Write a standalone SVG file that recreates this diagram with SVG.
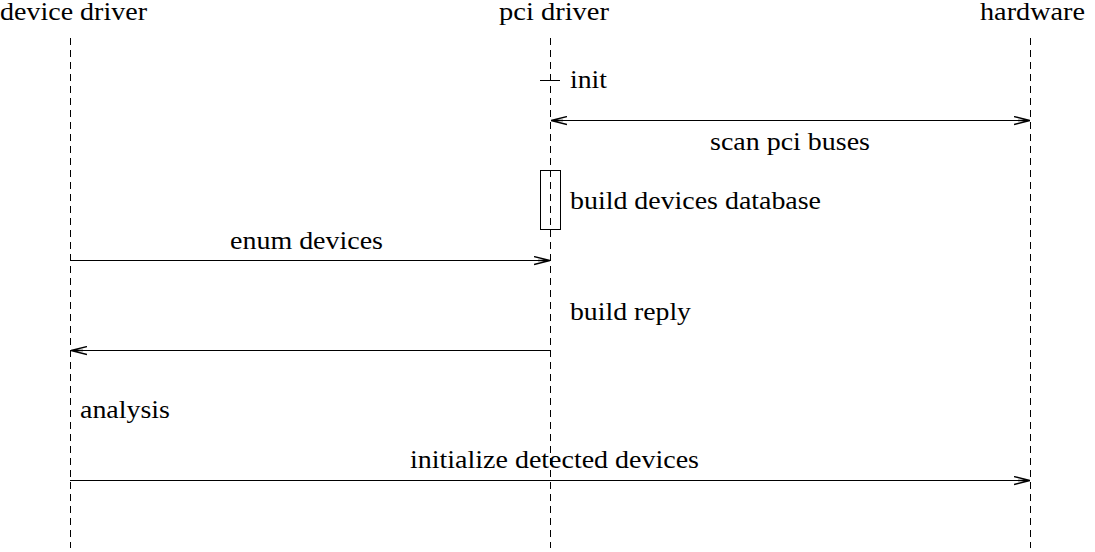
<svg xmlns="http://www.w3.org/2000/svg" width="1095" height="552" viewBox="0 0 1095 552">
<style>
text{font-family:"Liberation Serif","Times New Roman",serif;font-size:25px;fill:#000}
.life{stroke:#000;stroke-width:1;stroke-dasharray:7 5;fill:none}
.msg{stroke:#000;stroke-width:1;fill:none}
</style>
<defs>
<marker id="ah" viewBox="0 0 16 10" refX="16" refY="5" markerWidth="16" markerHeight="10" markerUnits="userSpaceOnUse" orient="auto-start-reverse">
<path d="M0,1 L16,5 L0,9 M4,5 L16,5" fill="none" stroke="#000" stroke-width="1.3"/>
</marker>
</defs>
<rect width="1095" height="552" fill="#fff"/>
<g id="device-driver">
<text x="0" y="20" textLength="147" lengthAdjust="spacingAndGlyphs">device driver</text>
<line class="life" x1="70.5" y1="38" x2="70.5" y2="548"/>
</g>
<g id="pci-driver">
<text x="499" y="20" textLength="110" lengthAdjust="spacingAndGlyphs">pci driver</text>
<line class="life" x1="550.5" y1="38" x2="550.5" y2="548"/>
</g>
<g id="hardware">
<text x="980" y="20" textLength="105" lengthAdjust="spacingAndGlyphs">hardware</text>
<line class="life" x1="1030.5" y1="38" x2="1030.5" y2="548"/>
</g>
<g id="init">
<line class="msg" x1="540" y1="80.5" x2="560" y2="80.5"/>
<text x="570" y="88" textLength="37" lengthAdjust="spacingAndGlyphs">init</text>
</g>
<g id="build-db">
<rect x="540.5" y="170.5" width="20" height="59" fill="none" stroke="#000"/>
<text x="570" y="209" textLength="251" lengthAdjust="spacingAndGlyphs">build devices database</text>
</g>
<g id="build-reply">
<text x="570" y="320" textLength="121" lengthAdjust="spacingAndGlyphs">build reply</text>
</g>
<g id="analysis">
<text x="80" y="418" textLength="90" lengthAdjust="spacingAndGlyphs">analysis</text>
</g>
<g id="connectors">
<line class="msg" x1="551" y1="120.5" x2="1030" y2="120.5" marker-start="url(#ah)" marker-end="url(#ah)"/>
<text x="710" y="150" textLength="160" lengthAdjust="spacingAndGlyphs">scan pci buses</text>
<line class="msg" x1="70" y1="260.5" x2="550" y2="260.5" marker-end="url(#ah)"/>
<text x="230" y="249" textLength="153" lengthAdjust="spacingAndGlyphs">enum devices</text>
<line class="msg" x1="550" y1="350.5" x2="71" y2="350.5" marker-end="url(#ah)"/>
<line class="msg" x1="70" y1="480.5" x2="1030" y2="480.5" marker-end="url(#ah)"/>
<text x="410" y="468" textLength="289" lengthAdjust="spacingAndGlyphs">initialize detected devices</text>
</g>
</svg>
